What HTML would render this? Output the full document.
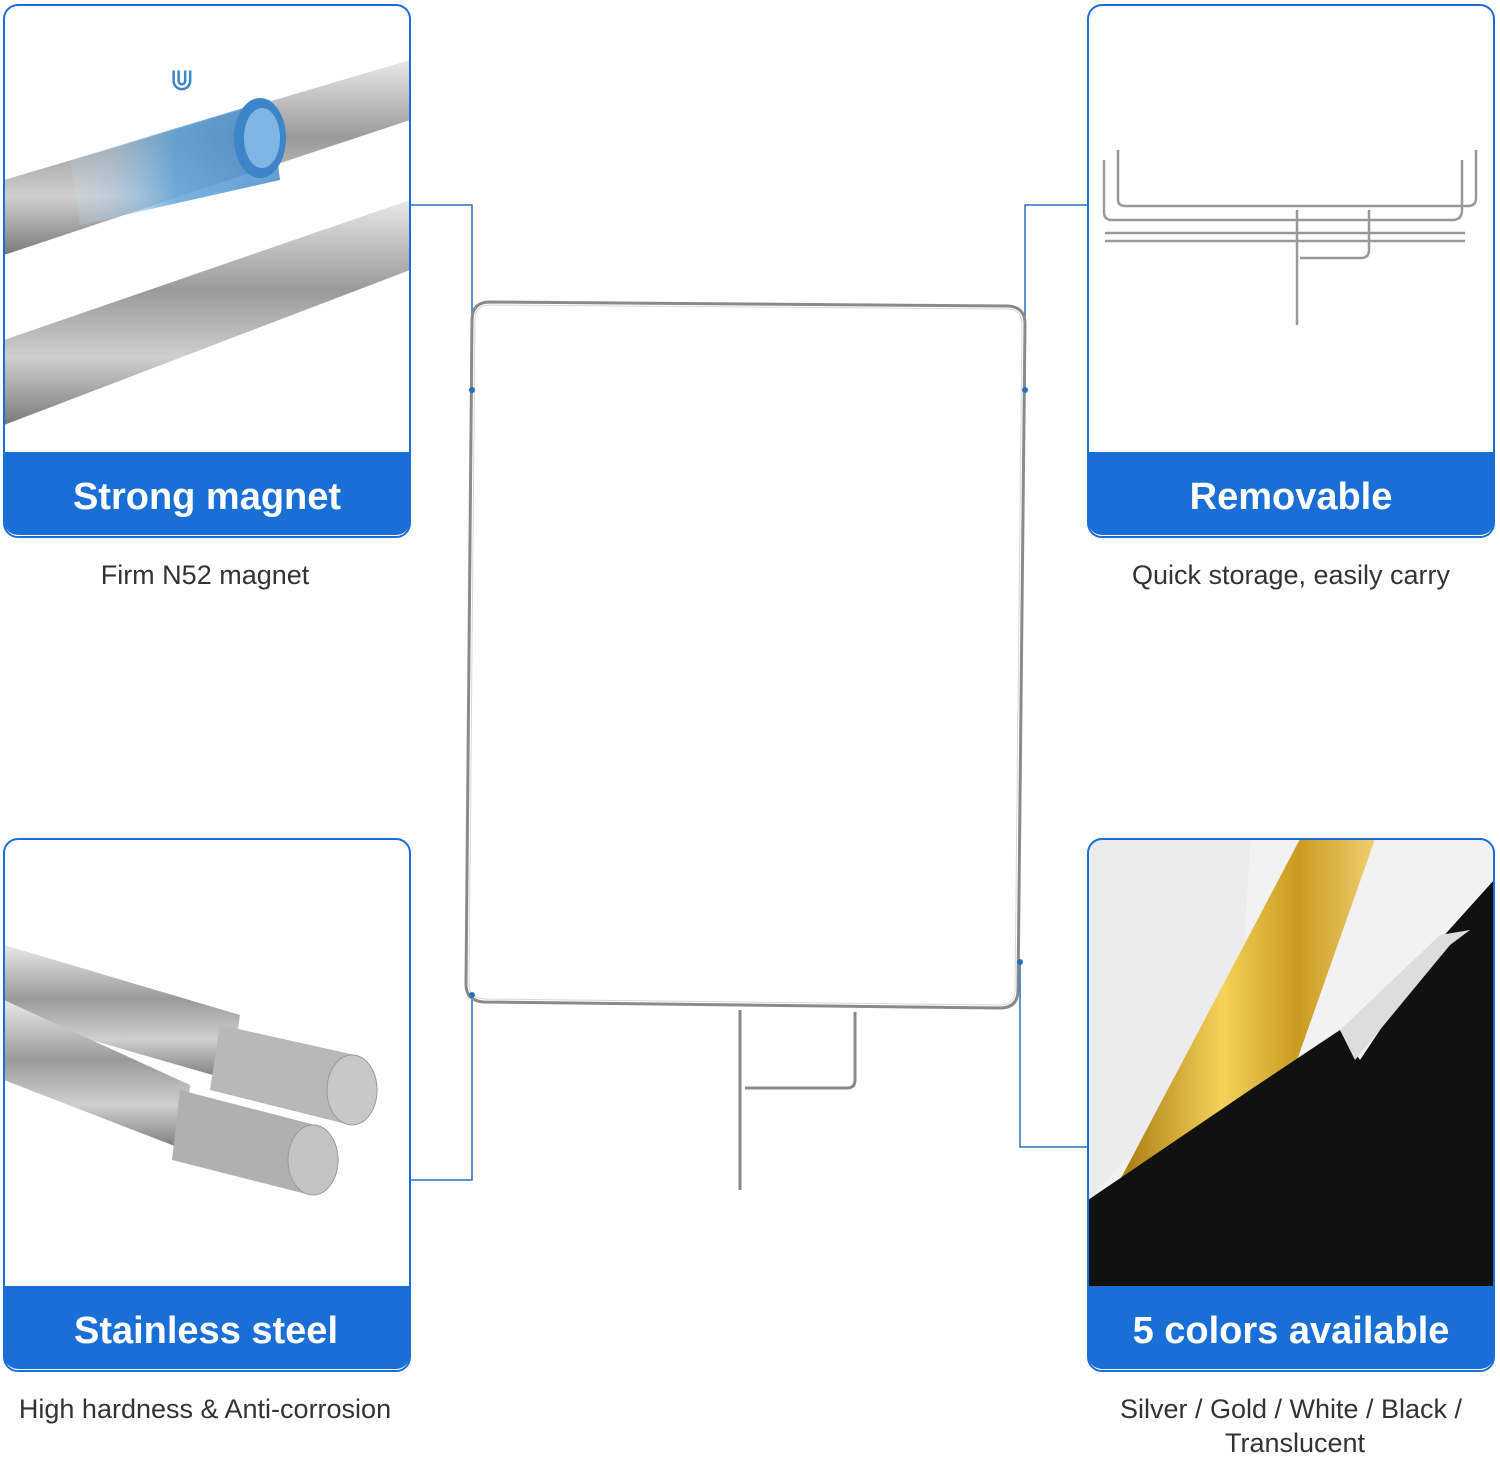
<!DOCTYPE html>
<html><head><meta charset="utf-8"><style>
html,body{margin:0;padding:0;background:#fff;}
svg{display:block}
text{font-family:"Liberation Sans","DejaVu Sans",sans-serif}
</style></head><body>
<svg width="1500" height="1457" viewBox="0 0 1500 1457" xmlns="http://www.w3.org/2000/svg">
<defs>
<linearGradient id="rod" x1="0" y1="0" x2="0" y2="1">
<stop offset="0" stop-color="#e8e8e8"/><stop offset="0.4" stop-color="#9a9a9a"/><stop offset="0.7" stop-color="#cfcfcf"/><stop offset="1" stop-color="#7a7a7a"/></linearGradient>
<linearGradient id="blueg" x1="0" y1="0" x2="1" y2="0">
<stop offset="0" stop-color="#cfe3f3" stop-opacity="0.2"/><stop offset="0.5" stop-color="#5aa0d8"/><stop offset="1" stop-color="#3c85c8"/></linearGradient>
<linearGradient id="gold" x1="0" y1="0" x2="1" y2="0">
<stop offset="0" stop-color="#a87a10"/><stop offset="0.4" stop-color="#f5d25a"/><stop offset="0.7" stop-color="#c99a20"/><stop offset="1" stop-color="#f0d070"/></linearGradient>
<clipPath id="c1"><rect x="4" y="5" width="406" height="530" rx="14"/></clipPath>
<clipPath id="c2"><rect x="1088" y="5" width="406" height="530" rx="14"/></clipPath>
<clipPath id="c3"><rect x="4" y="839" width="406" height="530" rx="14"/></clipPath>
<clipPath id="c4"><rect x="1088" y="839" width="406" height="530" rx="14"/></clipPath>
</defs>

<!-- connectors -->
<g stroke="#2a6fc4" stroke-width="1.5" fill="none">
<polyline points="411,205 472,205 472,390"/>
<polyline points="411,1180 472,1180 472,995"/>
<polyline points="1087,205 1025,205 1025,390"/>
<polyline points="1087,1147 1020,1147 1020,962"/>
</g>

<!-- frame -->
<g fill="none" stroke="#8a8a8a" stroke-width="3">
<path d="M490,302 L1008,306 Q1025,307 1025,324 L1018,990 Q1018,1008 1000,1008 L484,1002 Q466,1001 466,984 L472,320 Q472,302 490,302 Z"/>
<path d="M740,1010 L740,1190"/>
<path d="M855,1012 L855,1080 Q855,1088 847,1088 L745,1088"/>
</g>
<g fill="none" stroke="#d8d8d8" stroke-width="1">
<path d="M490,305 L1008,309 Q1022,310 1022,324 L1015,990 Q1015,1005 1000,1005 L484,999 Q469,998 469,984 L475,320 Q475,305 490,305 Z"/>
</g>
<g fill="#2a6fc4"><circle cx="472" cy="390" r="3"/><circle cx="472" cy="995" r="3"/><circle cx="1025" cy="390" r="3"/><circle cx="1020" cy="962" r="3"/></g>

<!-- panel 1 -->
<g clip-path="url(#c1)">
<rect x="4" y="5" width="406" height="530" fill="#fff"/>
<polygon points="4,180 410,60 410,120 4,255" fill="url(#rod)"/>
<polygon points="70,160 270,100 280,180 80,225" fill="url(#blueg)" opacity="0.8"/>
<ellipse cx="260" cy="138" rx="26" ry="40" fill="#3c85c8"/>
<ellipse cx="262" cy="138" rx="18" ry="30" fill="#7fb6e4"/>
<polygon points="4,340 410,200 410,270 4,425" fill="url(#rod)"/>
<text x="182" y="90" font-size="30" fill="#3c85c8" text-anchor="middle">⋓</text>
<rect x="4" y="452" width="406" height="90" fill="#1a6fd6"/>
</g>
<rect x="4" y="5" width="406" height="532" rx="14" fill="none" stroke="#1a6fd6" stroke-width="2"/>
<text x="207" y="509" font-size="38" font-weight="bold" fill="#fff" text-anchor="middle">Strong magnet</text>
<text x="205" y="584" font-size="27" fill="#333" text-anchor="middle">Firm N52 magnet</text>

<!-- panel 2 -->
<g clip-path="url(#c2)">
<rect x="1088" y="5" width="406" height="530" fill="#fff"/>
<g fill="none" stroke="#999" stroke-width="2.5">
<path d="M1118,150 L1118,200 Q1118,206 1126,206 L1468,206 Q1476,206 1476,198 L1476,150"/>
<path d="M1104,160 L1104,212 Q1104,220 1112,220 L1452,220 Q1462,220 1462,210 L1462,160"/>
<path d="M1105,233 L1465,233 M1105,241 L1465,241"/>
<path d="M1297,210 L1297,325"/>
<path d="M1369,210 L1369,250 Q1369,258 1361,258 L1300,258"/>
</g>
<rect x="1088" y="452" width="406" height="90" fill="#1a6fd6"/>
</g>
<rect x="1088" y="5" width="406" height="532" rx="14" fill="none" stroke="#1a6fd6" stroke-width="2"/>
<text x="1291" y="509" font-size="38" font-weight="bold" fill="#fff" text-anchor="middle">Removable</text>
<text x="1291" y="584" font-size="27" fill="#333" text-anchor="middle">Quick storage, easily carry</text>

<!-- panel 3 -->
<g clip-path="url(#c3)">
<rect x="4" y="839" width="406" height="530" fill="#fff"/>
<polygon points="4,945 240,1015 230,1080 4,1015" fill="url(#rod)"/>
<polygon points="4,1000 190,1085 185,1150 4,1080" fill="url(#rod)"/>
<polygon points="220,1025 355,1055 350,1125 210,1090" fill="#b8b8b8"/>
<ellipse cx="352" cy="1090" rx="25" ry="35" fill="#c8c8c8" stroke="#999"/>
<polygon points="180,1090 315,1125 310,1195 172,1160" fill="#b0b0b0"/>
<ellipse cx="313" cy="1160" rx="25" ry="35" fill="#c4c4c4" stroke="#999"/>
<rect x="4" y="1286" width="406" height="90" fill="#1a6fd6"/>
</g>
<rect x="4" y="839" width="406" height="532" rx="14" fill="none" stroke="#1a6fd6" stroke-width="2"/>
<text x="206" y="1343" font-size="38" font-weight="bold" fill="#fff" text-anchor="middle">Stainless steel</text>
<text x="205" y="1418" font-size="27" fill="#333" text-anchor="middle">High hardness &amp; Anti-corrosion</text>

<!-- panel 4 -->
<g clip-path="url(#c4)">
<rect x="1088" y="839" width="406" height="530" fill="#f2f2f2"/>
<polygon points="1088,839 1250,839 1240,1040 1088,1200" fill="#ececec"/>
<polygon points="1300,839 1375,839 1290,1080 1140,1230 1120,1180" fill="url(#gold)"/>
<polygon points="1088,1200 1250,1090 1340,1030 1360,1060 1440,940 1494,880 1494,1290 1088,1290" fill="#111"/>
<polygon points="1340,1030 1440,935 1470,930 1450,945 1355,1060" fill="#ddd"/>
<rect x="1088" y="1286" width="406" height="90" fill="#1a6fd6"/>
</g>
<rect x="1088" y="839" width="406" height="532" rx="14" fill="none" stroke="#1a6fd6" stroke-width="2"/>
<text x="1291" y="1343" font-size="38" font-weight="bold" fill="#fff" text-anchor="middle">5 colors available</text>
<text x="1291" y="1418" font-size="27" fill="#333" text-anchor="middle">Silver / Gold / White / Black /</text>
<text x="1295" y="1452" font-size="27" fill="#333" text-anchor="middle">Translucent</text>
</svg>
</body></html>
